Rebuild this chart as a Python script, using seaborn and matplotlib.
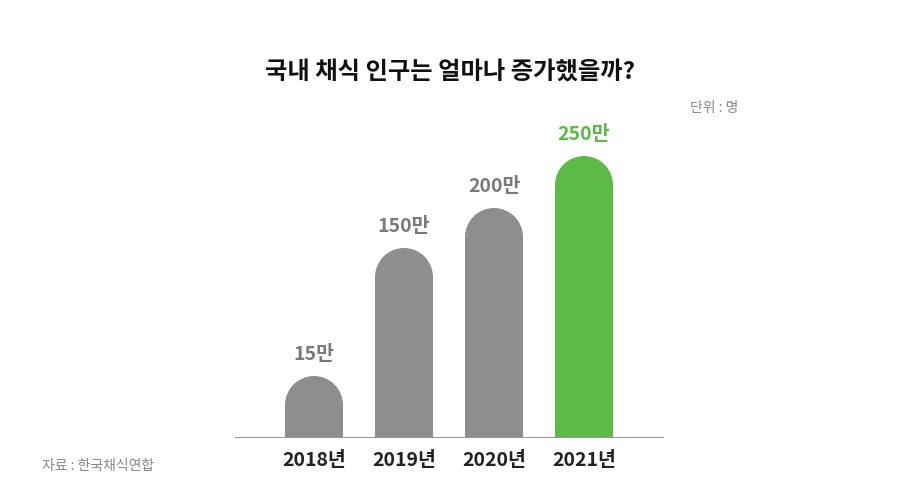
import matplotlib
matplotlib.use("Agg")
import matplotlib.pyplot as plt
import seaborn as sns
import pandas as pd
from matplotlib.patches import Ellipse

years = ["2018년", "2019년", "2020년", "2021년"]
labels = ["15만", "150만", "200만", "250만"]
# bar heights as drawn in the picture (not proportional to the labels)
heights = [61, 189, 229, 281]
colors = ["#8e8e8e", "#8e8e8e", "#8e8e8e", "#5cbb45"]
label_colors = ["#7a7a7a", "#7a7a7a", "#7a7a7a", "#5cbb45"]

sns.set_style("white")
plt.rcParams['font.family'] = ['Noto Sans CJK KR', 'DejaVu Sans']

df = pd.DataFrame({"year": years, "h": heights})

fig = plt.figure(figsize=(9, 5), dpi=100)
ax = fig.add_axes([235/900, (500-437)/500, 428/900, 337/500])
sns.barplot(data=df, x="year", y="h", hue="year", palette=colors, legend=False,
            width=0.644, ax=ax, saturation=1, linewidth=0)
ax.set_xlim(-0.878, 3.878)
ax.set_ylim(0, 337)

r = 29  # radius in pixel units
for p, c, lab, lc in zip(ax.patches, colors, labels, label_colors):
    h = p.get_height()
    p.set_height(h - r)
    p.set_linewidth(0)
    cx = p.get_x() + p.get_width() / 2
    ax.add_patch(Ellipse((cx, h - r), p.get_width(), 2 * r, facecolor=c, lw=0))
    ax.text(cx, h + 12, lab, ha="center", va="bottom", fontsize=14,
            fontweight="bold", color=lc)

for s in ["top", "right", "left"]:
    ax.spines[s].set_visible(False)
ax.spines["bottom"].set_color("#999999")
ax.set_yticks([])
ax.set_xlabel("")
ax.set_ylabel("")
ax.tick_params(axis="x", length=0, pad=10, labelsize=14)
for t in ax.get_xticklabels():
    t.set_fontweight("bold")
    t.set_color("#222222")

fig.text(0.5, 1 - 72/500, "국내 채식 인구는 얼마나 증가했을까?", ha="center", va="center",
         fontsize=17.5, fontweight="bold", color="#111111")
fig.text(738/900, 1 - 108/500, "단위 : 명", ha="right", va="center",
         fontsize=10, color="#888888")
fig.text(42/900, 1 - 466/500, "자료 : 한국채식연합", ha="left", va="center",
         fontsize=10, color="#888888")

fig.savefig("out.png", dpi=100)
